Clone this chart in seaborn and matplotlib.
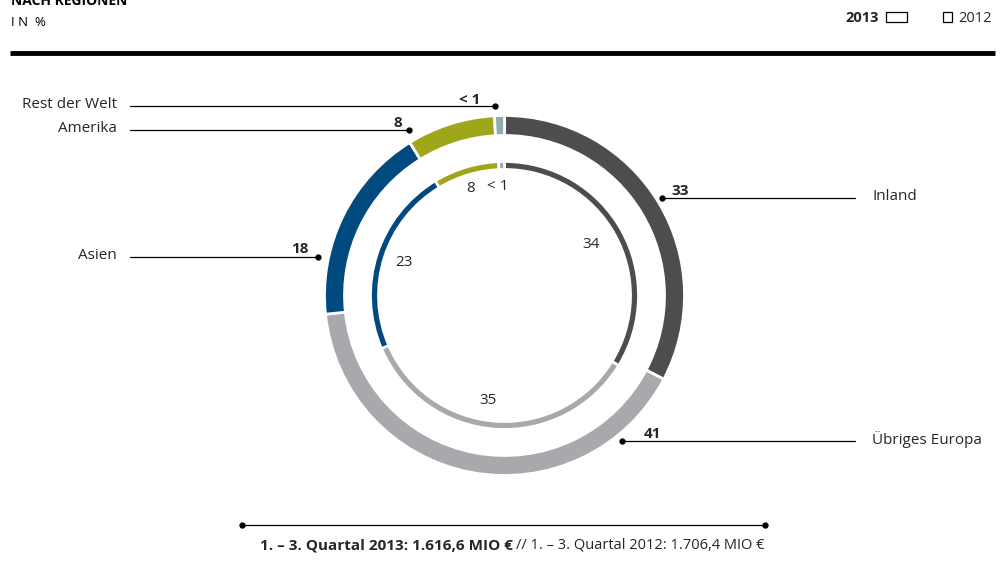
import matplotlib.pyplot as plt
import seaborn as sns

# Umsatz nach Regionen in %
regions = ["Inland", "Übriges Europa", "Asien", "Amerika", "Rest der Welt"]
share_2013 = [33, 41, 18, 8, 0.9]
share_2012 = [34, 35, 23, 8, 0.7]
labels_2013 = ["33", "41", "18", "8", "< 1"]
labels_2012 = ["34", "35", "23", "8", "< 1"]
colors = ["#4d4d4f", "#a8a9ac", "#004a80", "#a0a61a", "#8fabb3"]

W, H = 1005, 567


def Y(py):
    # pixel row (from top) -> data y
    return H - py


sns.set_theme(style="white")
plt.rcParams["font.family"] = ["Open Sans", "DejaVu Sans"]

fig = plt.figure(figsize=(W / 100, H / 100), dpi=100)
ax = fig.add_axes([0, 0, 1, 1])

cx, cy = 504.5, Y(295.5)
ax.pie(share_2013, radius=180, center=(cx, cy), startangle=90, counterclock=False,
       colors=colors, wedgeprops=dict(width=20, edgecolor="white", linewidth=2))
ax.pie(share_2012, radius=134, center=(cx, cy), startangle=90, counterclock=False,
       colors=colors, wedgeprops=dict(width=8, edgecolor="white", linewidth=2))

# header (title runs off the top edge as in the original)
ax.text(11, Y(5), "NACH REGIONEN", fontsize=10, fontweight="bold", color="black")
ax.text(11, Y(26), "I N  %", fontsize=9.5, color="black")
ax.plot([10, 995], [Y(53), Y(53)], color="black", lw=3.5, solid_capstyle="butt")

# legend
ax.text(879, Y(22), "2013", fontsize=10.5, fontweight="bold", ha="right")
ax.add_patch(plt.Rectangle((886, Y(22)), 21, 10, fill=False, ec="black", lw=0.9))
ax.add_patch(plt.Rectangle((943, Y(22)), 9, 10, fill=False, ec="black", lw=0.9))
ax.text(958, Y(22), "2012", fontsize=10.5)

# outer ring labels with leader lines
callouts = [
    # name, text x, line y, line start, line end (dot), value x, value y, side
    (regions[0], 872, 198, 855, 662, 680, 191, "right"),
    (regions[1], 872, 441, 855, 622, 652, 434, "right"),
    (regions[2], 117, 257, 130, 318, 300, 249, "left"),
    (regions[3], 117, 130, 130, 409, 398, 123, "left"),
    (regions[4], 117, 106, 130, 495, 470, 100, "left"),
]
for i, (name, tx, ly, x0, x1, vx, vy, side) in enumerate(callouts):
    ax.plot([x0, x1], [Y(ly), Y(ly)], color="black", lw=0.9)
    ax.plot([x1], [Y(ly)], "o", color="black", ms=3.5)
    ax.text(tx, Y(ly) + 1.5, name, fontsize=11, va="center",
            ha="left" if side == "right" else "right")
    ax.text(vx, Y(vy), labels_2013[i], fontsize=11, fontweight="bold", ha="center", va="center")

# inner ring labels
inner_pos = [(591, 244), (488, 401), (404, 262), (471, 189), (498, 186)]
for lab, (px, py) in zip(labels_2012, inner_pos):
    ax.text(px, Y(py), lab, fontsize=11, ha="center", va="center")

# footer
ax.plot([242, 765], [Y(525), Y(525)], color="black", lw=0.9)
ax.plot([242, 765], [Y(525), Y(525)], "o", color="black", ms=3.5)
ax.text(513, Y(545), "1. – 3. Quartal 2013: 1.616,6 MIO €", fontsize=11,
        fontweight="bold", ha="right", va="center")
ax.text(516, Y(545), "// 1. – 3. Quartal 2012: 1.706,4 MIO €", fontsize=10.5,
        ha="left", va="center")

ax.set_xlim(0, W)
ax.set_ylim(0, H)
ax.set_aspect("auto")
ax.axis("off")

fig.savefig("out.png", dpi=100)
